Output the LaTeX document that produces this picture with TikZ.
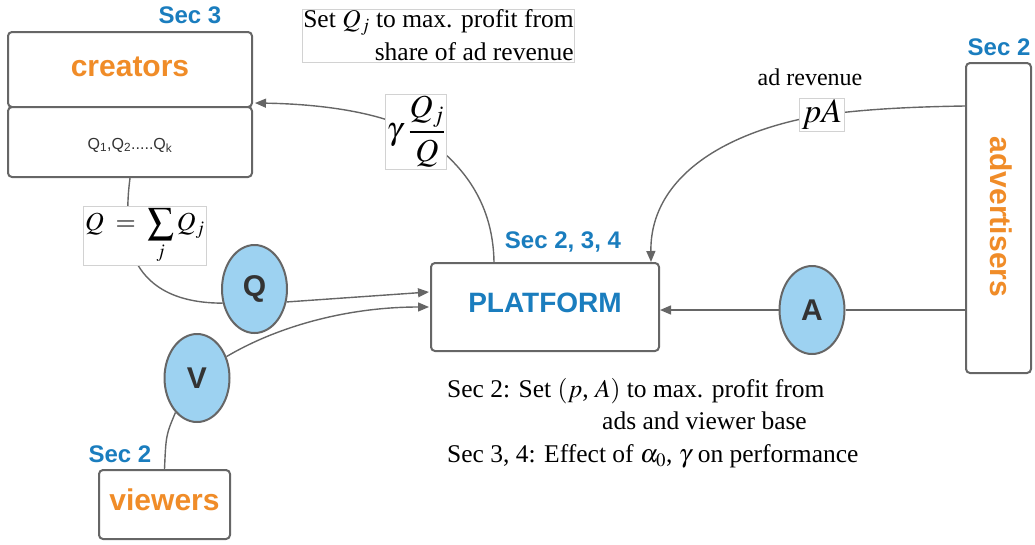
\documentclass[tikz,border=0pt]{standalone}
\usepackage{mathptmx}
\usepackage{fontspec}
\setmainfont{Liberation Serif}
\newfontfamily\hv{Liberation Sans}
\usetikzlibrary{arrows.meta,shapes.geometric,calc}
\definecolor{boxgray}{HTML}{666666}
\definecolor{secblue}{HTML}{1A7DBE}
\definecolor{orng}{HTML}{F08C28}
\definecolor{bubble}{HTML}{9DD2F1}
\definecolor{lblgray}{HTML}{D2D2D2}
\definecolor{ink}{HTML}{333333}
\begin{document}
\begin{tikzpicture}[x=1pt,y=-1pt,
  box/.style={draw=boxgray,line width=2pt,rounded corners=4pt,fill=white,inner sep=0pt},
  conn/.style={draw=boxgray,line width=1.4pt},
  arr/.style={conn,-{Triangle[length=11pt,width=9pt]}},
  bubblenode/.style={ellipse,draw=boxgray,line width=2pt,fill=bubble,minimum width=65pt,minimum height=88pt,inner sep=0pt,font=\hv\bfseries\fontsize{30}{30}\selectfont,text=ink},
  role/.style={font=\hv\bfseries\fontsize{30}{30}\selectfont,text=orng},
  sec/.style={font=\hv\bfseries\fontsize{24}{24}\selectfont,text=secblue},
  lbl/.style={draw=lblgray,line width=0.8pt,fill=white,inner sep=1.5pt},
  ]
\useasboundingbox (0,0) rectangle (1035,544);

% boxes for the parties
\node[box,minimum width=244pt,minimum height=75pt] (crt) at (130,69.5) {};
\node[box,minimum width=244pt,minimum height=70pt] (crb) at (130,142) {};
\node[box,minimum width=228pt,minimum height=88pt] (plat) at (545,307) {};
\node[box,minimum width=65pt,minimum height=310pt] (adv) at (998.5,218) {};
\node[box,minimum width=131pt,minimum height=69pt] (view) at (164.5,504.5) {};

% box texts
\node[role] (crtxt) at (130,67) {creators};
\node[font=\hv\fontsize{16}{16}\selectfont,text=ink] (qlist) at (130,145) {Q\textsubscript{1},Q\textsubscript{2}.....Q\textsubscript{k}};
\node[font=\hv\bfseries\fontsize{28}{28}\selectfont,text=secblue] (plattxt) at (545,303) {PLATFORM};
\node[role,rotate=-90] (advtxt) at (1001,217) {advertisers};
\node[role] (viewtxt) at (164.5,500) {viewers};

% section tags
\node[sec] (s3) at (190,15) {Sec 3};
\node[sec] (s234) at (563,242) {Sec 2, 3, 4};
\node[sec] (s2a) at (999,47) {Sec 2};
\node[sec] (s2v) at (120,454) {Sec 2};

% quantity bubbles
\node[bubblenode] (Q) at (254.5,289) {Q};
\node[bubblenode] (V) at (197,378) {V};
\node[bubblenode] (A) at (812,310) {A};

% points where the connectors pass under their labels
\coordinate (gq) at (416,132);
\coordinate (pa) at (822,115);
\coordinate (sq) at (127,236);

% connectors
\draw[arr] ($(plat.north west)+(64,0)$) .. controls (493,200) and (460,160) .. (gq)
  .. controls (380,112) and (320,104) .. ($(crt.south east)+(2,-5)$);
\draw[arr] ($(adv.north west)+(0,44)$) .. controls (900,107) and (860,110) .. (pa)
  .. controls (720,132) and (650,180) .. ($(plat.north east)+(-9,0)$);
\draw[conn] (crb.south) .. controls (128,195) .. (sq)
  .. controls (138,290) and (180,303) .. (Q.204);
\draw[arr] (Q.338) -- ($(plat.west)+(-1,-15)$);
\draw[arr] (V.36) .. controls (280,325) and (350,307) .. ($(plat.west)+(-1,0)$);
\draw[conn] (V.238) .. controls (166,435) .. (view.north);
\draw[conn] (adv.west |- A.east) -- (A.east);
\draw[arr] (A.west) -- (plat.east |- A.west);

% labels on the connectors
\node[lbl,font=\fontsize{32}{32}\selectfont] (gamlbl) at (gq) {$\displaystyle\gamma\hspace{6pt}\frac{Q_j}{Q}$};
\node[lbl,font=\fontsize{34}{34}\selectfont,inner sep=2pt] (palbl) at (pa) {$pA$};
\node[lbl,font=\fontsize{26}{26}\selectfont] (sumlbl) at (145,236) {$\displaystyle Q\mkern4mu=\mkern4mu\sum_j Q_j$};
\node[font=\fontsize{24}{24}\selectfont] (adrev) at (810,77) {ad revenue};

% notes
\node[lbl,align=right,font=\fontsize{25.5}{33}\selectfont,inner sep=1pt] (crnote) at (438.5,35.5)
  {Set $Q_j$ to max. profit from\\ share of ad revenue};
\node[align=left,anchor=north west,inner sep=0pt,font=\fontsize{25.5}{32.5}\selectfont] (platnote) at (447,378)
  {Sec 2: Set $(p$, $A)$ to max. profit from\\
   \hspace*{155pt}ads and viewer base\\
   Sec 3, 4: Effect of $\alpha_0$, $\gamma$ on performance};
\end{tikzpicture}
\end{document}
